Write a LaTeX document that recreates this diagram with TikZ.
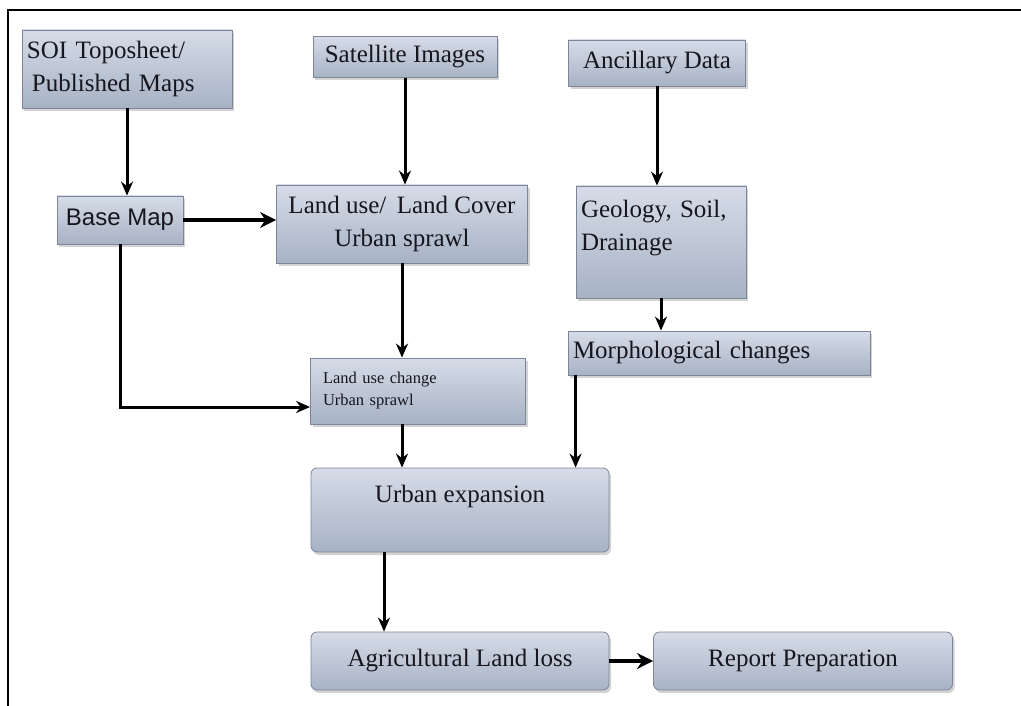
\documentclass[tikz,border=0pt]{standalone}
\usepackage{fontspec}
\setmainfont{Liberation Serif}
\newfontfamily\basefont{Liberation Sans}
\usetikzlibrary{arrows.meta,shadows}

\definecolor{boxtop}{HTML}{D6DCE8}
\definecolor{boxbot}{HTML}{A7B2C4}
\definecolor{boxline}{HTML}{7C8698}
\definecolor{boxtext}{HTML}{16161E}

\begin{document}
\begin{tikzpicture}
  [x=1pt,y=-1pt,
   every node/.style={draw=boxline,line width=0.8pt,top color=boxtop,bottom color=boxbot,
     text=boxtext,inner sep=5pt,font=\fontsize{25}{33}\selectfont,
     drop shadow={opacity=0.35,shadow xshift=2pt,shadow yshift=-3pt}},
   flow/.style={line width=3pt,-{Stealth[length=14pt,width=12pt]}},
   fatflow/.style={line width=4.5pt,-{Stealth[length=16pt,width=16pt]}}]
  \useasboundingbox (0,0) rectangle (1021,706);
  \draw[line width=2pt] (8,706) -- (8,10) -- (1021,10);

  \node (soi) at (127,69) [minimum width=210,minimum height=78,text width=200,align=left] {SOI Toposheet/\\\hspace*{5pt}Published Maps};
  \node (sat) at (405,57) [minimum width=184,minimum height=41,align=center] {Satellite Images};
  \node (anc) at (657,63) [minimum width=177,minimum height=46,align=center] {Ancillary Data};
  \node (base) at (120,220) [minimum width=126,minimum height=48,font=\basefont\fontsize{24}{30}\selectfont] {Base Map};
  \node (lulc) at (402,224) [minimum width=251,minimum height=78,align=center] {Land use/\, Land Cover\\Urban sprawl};
  \node (geo) at (661,242) [minimum width=170,minimum height=112,text width=160,align=left] {Geology, Soil,\\Drainage\\\mbox{}};
  \node (morph) at (719,353) [minimum width=302,minimum height=44,text width=292,align=left] {Morphological changes};
  \node (lucc) at (418,391) [minimum width=215,minimum height=66,text width=190,align=left,font=\fontsize{16.5}{22}\selectfont] {Land use change\\Urban sprawl};
  \node (urb) at (460,510) [minimum width=298,minimum height=84,rounded corners=6pt,align=center] {Urban expansion\\\mbox{}};
  \node (agri) at (460,661) [minimum width=298,minimum height=58,rounded corners=6pt,align=center] {Agricultural Land loss};
  \node (rep) at (803,661) [minimum width=299,minimum height=58,rounded corners=6pt,align=center] {Report Preparation};

  \foreach \from/\to in {soi/base,sat/lulc,anc/geo}
    \draw[flow] (\from.south) -- (\from.south |- \to.north);
  \draw[flow] (geo.south) -- (geo.south |- morph.north);
  \draw[flow] (lulc.south) -- (lulc.south |- lucc.north);
  \draw[flow] (lulc.south |- lucc.south) -- (lulc.south |- urb.north);
  \draw[flow] ([xshift=8pt]morph.south west) -- ([xshift=8pt]morph.south west |- urb.north);
  \draw[flow] ([xshift=-76pt]urb.south) -- ([xshift=-76pt]urb.south |- agri.north);
  \draw[flow] (base.south) |- ([yshift=-16pt]lucc.west);
  \draw[fatflow] (base.east) -- (base.east -| lulc.west);
  \draw[fatflow] (agri.east) -- (rep.west);

\end{tikzpicture}
\end{document}
